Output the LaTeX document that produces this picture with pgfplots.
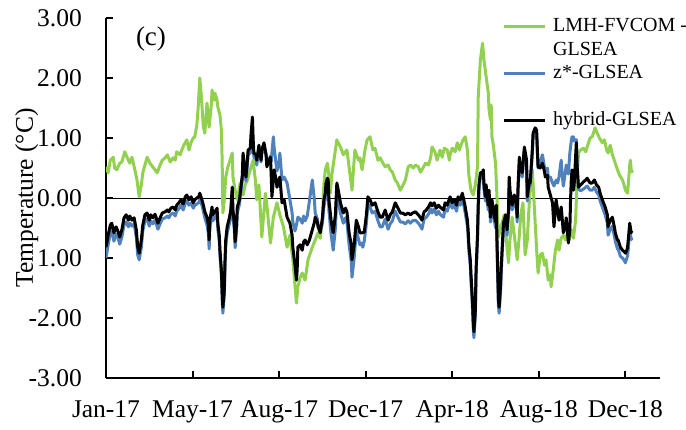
\documentclass[border=0pt]{standalone}
\usepackage{fontspec}
\setmainfont{Liberation Serif}
\usepackage{pgfplots}
\pgfplotsset{compat=1.18}
\definecolor{lgreen}{RGB}{146,208,80}
\definecolor{sblue}{RGB}{79,129,189}
\begin{document}
\begin{tikzpicture}
\useasboundingbox (-106pt,-51pt) rectangle (580pt,378pt);
\begin{axis}[
  at={(0pt,0pt)}, anchor=south west,
  width=554pt, height=360pt, scale only axis,
  xmin=0, xmax=768, ymin=-3, ymax=3,
  axis lines=left,
  axis line style={line width=2pt, -},
  xtick={0,120,240,360,480,600,720},
  xticklabels={Jan-17,May-17,Aug-17,Dec-17,Apr-18,Aug-18,Dec-18},
  ytick={-3,-2,-1,0,1,2,3},
  yticklabels={-3.00,-2.00,-1.00,0.00,1.00,2.00,3.00},
  tick align=inside, major tick length=7pt,
  tick style={line width=2pt, black},
  xticklabel style={anchor=north, inner sep=0pt, yshift=-22pt, font=\fontsize{25.5}{30}\selectfont},
  yticklabel style={anchor=east, inner sep=0pt, xshift=-24pt, font=\fontsize{25.5}{30}\selectfont},
  ylabel={Temperature (°C)},
  every axis y label/.style={at={(axis description cs:-0.1318,0.5)}, rotate=90, anchor=base, font=\fontsize{25.5}{30}\selectfont, fill=white, inner sep=0pt},
  legend style={at={(axis description cs:0.7148,1.0036)}, anchor=north west, draw=none, fill=none, inner sep=0pt, font=\fontsize{20}{24}\selectfont, row sep=3.3pt, column sep=7pt, nodes={inner sep=0pt, text height=15pt, text depth=5pt}},
  legend cell align=left,
  legend image code/.code={\draw[#1, line width=3pt] (0pt,0pt) -- (41pt,0pt);},
  every axis plot/.append style={line join=round},
]
\addplot[black, line width=1pt, forget plot] coordinates {(0,0) (768,0)};

\addplot[lgreen, line width=3pt] coordinates {
(0,0.52) (3,0.42) (6,0.63) (10,0.68) (12,0.50) (15,0.47) (19,0.58) (22,0.60) (26,0.77) (31,0.63) (33,0.58) (36,0.68) (40,0.47) (43,0.30) (46,0.02) (49,0.22) (51,0.42) (54,0.55) (57,0.68) (61,0.58) (64,0.53) (68,0.47) (71,0.42) (75,0.55) (78,0.63) (82,0.67) (85,0.72) (89,0.60) (93,0.67) (96,0.63) (98,0.77) (103,0.72) (105,0.80) (108,0.88) (112,0.97) (115,0.80) (118,0.93) (121,1.00) (123,1.02) (126,1.22) (128,1.55) (130,2.00) (132,1.72) (135,1.18) (137,1.08) (140,1.58) (143,1.18) (146,1.55) (147,1.80) (150,1.63) (151,1.75) (154,1.63) (155,1.52) (158,1.38) (160,1.13) (161,0.63) (162,-0.25) (164,-0.03) (166,0.35) (169,0.52) (172,0.63) (175,0.75) (176,0.35) (179,0.13) (182,-0.03) (186,0.25) (190,0.05) (193,0.22) (196,0.30) (200,0.47) (204,0.63) (207,0.30) (209,-0.03) (212,0.22) (216,-0.65) (221,0.08) (223,-0.12) (228,-0.75) (232,-0.32) (237,-0.08) (241,-0.28) (246,-0.48) (251,-0.82) (255,-0.62) (259,-1.03) (264,-1.75) (266,-1.48) (269,-1.33) (272,-1.25) (276,-1.37) (280,-1.03) (286,-0.82) (290,-0.70) (294,-0.58) (297,-0.67) (300,-0.37) (302,0.22) (304,0.47) (307,0.58) (309,0.38) (311,0.08) (313,0.38) (316,0.63) (320,0.97) (325,0.85) (329,0.72) (332,0.77) (334,0.80) (338,0.42) (341,0.13) (345,0.80) (350,0.63) (352,0.67) (355,0.47) (359,0.80) (362,0.97) (366,1.02) (370,0.80) (373,0.83) (377,0.63) (380,0.67) (384,0.58) (387,0.52) (391,0.55) (394,0.47) (397,0.43) (401,0.30) (404,0.25) (408,0.13) (412,0.22) (415,0.30) (419,0.52) (422,0.55) (426,0.50) (429,0.55) (433,0.52) (436,0.43) (438,0.47) (443,0.58) (447,0.55) (450,0.67) (452,0.85) (456,0.77) (459,0.63) (463,0.80) (466,0.68) (469,0.83) (473,0.80) (476,0.63) (477,0.72) (480,0.83) (484,0.77) (487,0.92) (490,0.80) (492,0.88) (495,0.97) (498,1.02) (501,0.80) (503,0.38) (506,0.13) (509,0.05) (512,0.22) (515,0.52) (516,1.68) (519,2.30) (522,2.58) (524,2.30) (527,2.02) (530,1.75) (531,1.47) (533,1.30) (534,1.55) (535,1.02) (537,0.88) (540,0.58) (542,0.02) (544,-0.65) (547,-0.50) (549,-0.42) (552,-0.28) (555,-0.70) (558,-1.08) (560,-0.70) (563,-0.32) (566,-0.62) (570,-1.03) (573,-0.62) (575,-0.28) (578,-0.08) (581,-0.95) (584,-0.70) (587,-0.03) (589,0.30) (591,0.47) (594,-0.20) (597,-0.87) (599,-1.25) (602,-0.95) (605,-0.92) (608,-1.12) (610,-1.03) (613,-1.37) (616,-1.28) (617,-1.48) (620,-1.20) (623,-0.87) (626,-0.70) (628,-0.87) (631,-0.67) (634,-0.62) (637,-0.70) (640,-0.58) (642,-0.70) (645,-0.53) (648,-0.67) (651,-0.37) (653,0.30) (655,0.75) (658,0.80) (662,0.83) (665,0.77) (667,0.85) (671,1.00) (674,1.02) (677,1.13) (678,1.17) (681,1.08) (684,1.00) (688,0.92) (691,0.97) (694,0.80) (696,0.75) (699,0.88) (702,0.72) (706,0.58) (709,0.47) (712,0.38) (716,0.30) (719,0.18) (720,0.13) (723,0.08) (724,0.22) (726,0.55) (727,0.63) (728,0.47) (730,0.42)
};
\addlegendentry{LMH-FVCOM -}
\addlegendimage{empty legend}
\addlegendentry{GLSEA}

\addplot[sblue, line width=3pt] coordinates {
(0,-1.00) (3,-0.78) (6,-0.58) (8,-0.55) (11,-0.72) (14,-0.60) (17,-0.68) (19,-0.77) (22,-0.65) (25,-0.45) (28,-0.40) (31,-0.48) (33,-0.42) (36,-0.47) (39,-0.43) (42,-0.65) (44,-0.95) (46,-1.03) (49,-0.82) (51,-0.55) (54,-0.38) (57,-0.35) (60,-0.47) (62,-0.38) (65,-0.43) (68,-0.37) (72,-0.52) (75,-0.43) (78,-0.35) (82,-0.33) (85,-0.30) (87,-0.33) (90,-0.27) (93,-0.25) (96,-0.30) (98,-0.22) (101,-0.18) (104,-0.12) (107,-0.20) (110,-0.08) (112,-0.05) (115,-0.12) (118,-0.08) (121,-0.17) (123,-0.12) (126,-0.10) (129,-0.07) (130,-0.03) (133,-0.12) (135,-0.22) (137,-0.33) (140,-0.45) (142,-0.60) (143,-0.85) (144,-0.50) (147,-0.25) (148,-0.38) (151,-0.33) (154,-0.27) (155,-0.52) (157,-0.72) (158,-0.97) (160,-1.30) (161,-1.67) (162,-1.92) (164,-1.62) (165,-1.12) (166,-0.80) (168,-0.58) (171,-0.43) (173,-0.30) (175,0.08) (176,-0.30) (178,-0.55) (179,-0.83) (181,-0.55) (182,-0.25) (185,-0.10) (186,0.00) (189,0.30) (190,0.65) (191,0.55) (194,0.28) (196,0.55) (197,0.72) (200,0.75) (201,0.92) (203,1.10) (204,0.85) (205,0.68) (208,0.65) (209,0.55) (212,0.80) (215,0.60) (216,0.75) (219,0.85) (222,0.70) (223,0.55) (226,0.62) (228,0.70) (229,0.60) (230,0.75) (232,1.02) (233,0.85) (236,0.55) (237,0.45) (240,0.60) (241,0.75) (244,0.30) (247,0.35) (251,0.25) (255,-0.03) (258,-0.25) (259,-0.40) (262,-0.55) (264,-0.45) (266,-0.32) (269,-0.35) (272,-0.42) (274,-0.30) (276,-0.38) (279,-0.30) (282,-0.05) (286,0.30) (289,-0.05) (290,-0.25) (293,-0.35) (294,-0.45) (297,-0.55) (300,-0.42) (302,-0.15) (304,-0.02) (305,0.10) (307,0.18) (308,0.12) (309,-0.20) (312,-0.60) (315,-0.87) (318,-0.50) (320,0.05) (322,-0.05) (325,-0.25) (329,-0.42) (332,-0.33) (334,-0.40) (337,-0.78) (340,-1.05) (341,-1.32) (344,-1.00) (347,-0.55) (350,-0.68) (352,-0.78) (355,-0.75) (356,-0.82) (358,-0.72) (361,-0.42) (363,-0.10) (366,-0.15) (369,-0.25) (373,-0.22) (377,-0.38) (380,-0.48) (383,-0.48) (387,-0.35) (391,-0.52) (394,-0.43) (397,-0.38) (401,-0.22) (404,-0.30) (408,-0.40) (411,-0.40) (415,-0.43) (419,-0.38) (422,-0.42) (425,-0.38) (429,-0.37) (433,-0.42) (436,-0.47) (438,-0.52) (441,-0.35) (444,-0.32) (447,-0.27) (450,-0.18) (452,-0.25) (455,-0.18) (458,-0.28) (461,-0.22) (463,-0.27) (468,-0.32) (470,-0.18) (473,-0.22) (477,-0.07) (480,-0.17) (483,-0.12) (486,-0.22) (488,-0.07) (491,-0.12) (494,0.00) (496,-0.12) (498,-0.25) (501,-0.47) (502,-0.63) (503,-0.88) (505,-1.13) (506,-1.40) (508,-1.82) (509,-2.15) (510,-2.33) (512,-1.97) (513,-1.30) (515,-0.70) (516,-0.20) (517,0.15) (519,0.35) (522,0.37) (523,0.40) (524,0.15) (526,-0.05) (527,0.15) (528,-0.02) (530,-0.20) (531,0.05) (533,-0.40) (535,-0.10) (537,-0.28) (540,-0.50) (541,-0.20) (542,-0.80) (544,-1.80) (545,-1.92) (547,-1.55) (548,-1.20) (551,-0.50) (554,-0.35) (556,-0.62) (558,-0.28) (559,0.28) (560,0.05) (563,-0.20) (566,-0.02) (569,-0.20) (570,-0.40) (571,0.05) (573,0.60) (574,0.48) (577,0.35) (580,0.80) (583,0.55) (584,-0.05) (587,0.25) (588,0.20) (591,0.75) (592,1.00) (595,1.08) (597,1.05) (598,0.75) (599,0.50) (602,0.60) (605,0.72) (608,0.50) (609,0.45) (612,0.50) (613,0.35) (616,0.35) (619,0.25) (621,0.20) (624,0.30) (626,0.25) (628,0.35) (631,0.63) (632,0.45) (634,0.20) (637,0.45) (638,0.55) (641,0.40) (643,0.75) (644,0.85) (645,0.95) (646,1.02) (648,1.02) (649,0.95) (652,0.97) (653,0.60) (655,0.15) (658,0.12) (662,0.15) (665,0.18) (667,0.20) (671,0.13) (674,0.13) (677,0.18) (680,0.10) (683,0.05) (685,-0.05) (688,-0.15) (691,-0.25) (692,-0.28) (695,-0.42) (696,-0.62) (699,-0.52) (702,-0.47) (705,-0.65) (706,-0.72) (709,-0.85) (710,-0.85) (713,-0.97) (716,-1.00) (719,-1.05) (720,-1.08) (722,-1.00) (723,-0.97) (724,-0.85) (726,-0.55) (727,-0.60) (728,-0.68) (730,-0.70)
};
\addlegendentry{z*-GLSEA}
\addlegendimage{empty legend}
\addlegendentry{\phantom{x}}

\addplot[black, line width=3pt] coordinates {
(0,-0.82) (3,-0.62) (6,-0.45) (8,-0.42) (11,-0.58) (14,-0.48) (17,-0.57) (19,-0.65) (22,-0.53) (25,-0.33) (28,-0.28) (31,-0.37) (33,-0.30) (36,-0.37) (39,-0.33) (42,-0.53) (44,-0.82) (46,-0.92) (49,-0.70) (51,-0.45) (54,-0.28) (57,-0.25) (60,-0.37) (62,-0.28) (65,-0.33) (68,-0.27) (72,-0.42) (75,-0.33) (78,-0.25) (82,-0.23) (85,-0.20) (87,-0.23) (90,-0.17) (93,-0.15) (96,-0.20) (98,-0.12) (101,-0.08) (104,-0.03) (107,-0.10) (110,0.02) (112,0.05) (115,-0.03) (118,0.02) (121,-0.08) (123,-0.03) (126,0.00) (129,0.03) (130,0.08) (133,-0.03) (135,-0.12) (137,-0.23) (140,-0.32) (142,-0.45) (143,-0.70) (144,-0.37) (147,-0.15) (148,-0.28) (151,-0.23) (154,-0.17) (155,-0.42) (157,-0.62) (158,-0.87) (160,-1.20) (161,-1.57) (162,-1.82) (164,-1.53) (165,-1.03) (166,-0.70) (168,-0.48) (171,-0.33) (173,-0.20) (175,0.18) (176,-0.20) (178,-0.45) (179,-0.73) (181,-0.45) (182,-0.15) (185,-0.03) (186,0.08) (189,0.38) (190,0.75) (191,0.63) (194,0.35) (196,0.63) (197,0.80) (200,0.83) (201,1.05) (203,1.35) (204,0.97) (205,0.75) (208,0.72) (209,0.63) (212,0.88) (215,0.63) (216,0.80) (219,0.92) (222,0.72) (223,0.52) (226,0.63) (228,0.68) (229,0.38) (230,0.02) (232,0.30) (233,0.47) (236,0.30) (237,0.18) (240,0.30) (241,0.35) (244,-0.08) (247,-0.03) (251,-0.32) (255,-0.42) (258,-0.62) (259,-0.82) (262,-1.12) (264,-1.37) (265,-1.20) (266,-0.82) (269,-0.78) (272,-0.87) (274,-0.73) (276,-0.70) (279,-0.78) (282,-0.70) (286,-0.53) (289,-0.40) (290,-0.32) (293,-0.40) (294,-0.48) (297,-0.58) (300,-0.33) (302,-0.03) (304,0.08) (305,0.25) (307,0.33) (308,0.30) (309,-0.03) (312,-0.37) (315,-0.58) (318,-0.28) (320,0.25) (322,0.13) (325,-0.08) (329,-0.25) (332,-0.17) (334,-0.23) (337,-0.58) (340,-0.78) (341,-1.03) (344,-0.78) (347,-0.37) (350,-0.48) (352,-0.58) (355,-0.58) (358,-0.57) (361,-0.28) (363,0.02) (366,-0.03) (369,-0.12) (373,-0.08) (377,-0.23) (380,-0.32) (383,-0.32) (387,-0.20) (391,-0.37) (394,-0.28) (397,-0.23) (401,-0.08) (404,-0.15) (408,-0.25) (411,-0.25) (415,-0.28) (419,-0.25) (422,-0.28) (425,-0.25) (429,-0.23) (433,-0.28) (436,-0.33) (438,-0.37) (441,-0.23) (444,-0.20) (447,-0.15) (450,-0.08) (452,-0.13) (455,-0.08) (458,-0.17) (461,-0.12) (463,-0.15) (468,-0.20) (470,-0.08) (473,-0.12) (477,0.02) (480,-0.08) (483,-0.03) (486,-0.12) (488,0.02) (491,-0.03) (494,0.08) (496,-0.03) (498,-0.15) (501,-0.37) (502,-0.53) (503,-0.78) (505,-1.03) (506,-1.28) (508,-1.70) (509,-2.03) (510,-2.23) (512,-1.87) (513,-1.20) (515,-0.62) (516,-0.12) (517,0.22) (519,0.42) (522,0.43) (523,0.47) (524,0.22) (526,0.02) (527,0.22) (528,0.05) (530,-0.12) (531,0.13) (533,-0.32) (535,-0.03) (537,-0.20) (540,-0.40) (541,-0.12) (542,-0.70) (544,-1.70) (545,-1.82) (547,-1.45) (548,-1.12) (551,-0.42) (554,-0.28) (556,-0.53) (558,-0.20) (559,0.35) (560,0.13) (563,-0.12) (566,0.05) (569,-0.12) (570,-0.32) (571,0.13) (573,0.68) (574,0.55) (577,0.42) (580,0.85) (583,0.63) (584,0.02) (587,0.30) (588,0.25) (591,0.80) (592,1.08) (595,1.17) (597,1.13) (598,0.80) (599,0.52) (602,0.50) (605,0.58) (608,0.43) (609,0.35) (612,0.38) (613,0.18) (616,0.05) (619,-0.08) (621,-0.48) (624,-0.03) (626,-0.20) (628,-0.37) (631,-0.15) (632,-0.28) (634,-0.58) (637,-0.45) (638,-0.33) (641,-0.75) (643,-0.53) (644,-0.03) (645,0.30) (646,0.47) (648,0.13) (649,0.22) (652,0.92) (653,0.55) (655,0.18) (658,0.22) (662,0.27) (665,0.30) (667,0.33) (671,0.25) (674,0.25) (677,0.30) (680,0.22) (683,0.18) (685,0.08) (688,-0.03) (691,-0.12) (692,-0.15) (695,-0.28) (696,-0.48) (699,-0.37) (702,-0.32) (705,-0.50) (706,-0.58) (709,-0.70) (710,-0.70) (713,-0.82) (716,-0.87) (719,-0.90) (720,-0.92) (722,-0.87) (723,-0.82) (724,-0.70) (726,-0.42) (727,-0.50) (728,-0.57) (730,-0.58)
};
\addlegendentry{hybrid-GLSEA}

\node[font=\fontsize{27}{32}\selectfont] at (axis description cs:0.0812,0.9417) {(c)};
\end{axis}
\end{tikzpicture}
\end{document}
